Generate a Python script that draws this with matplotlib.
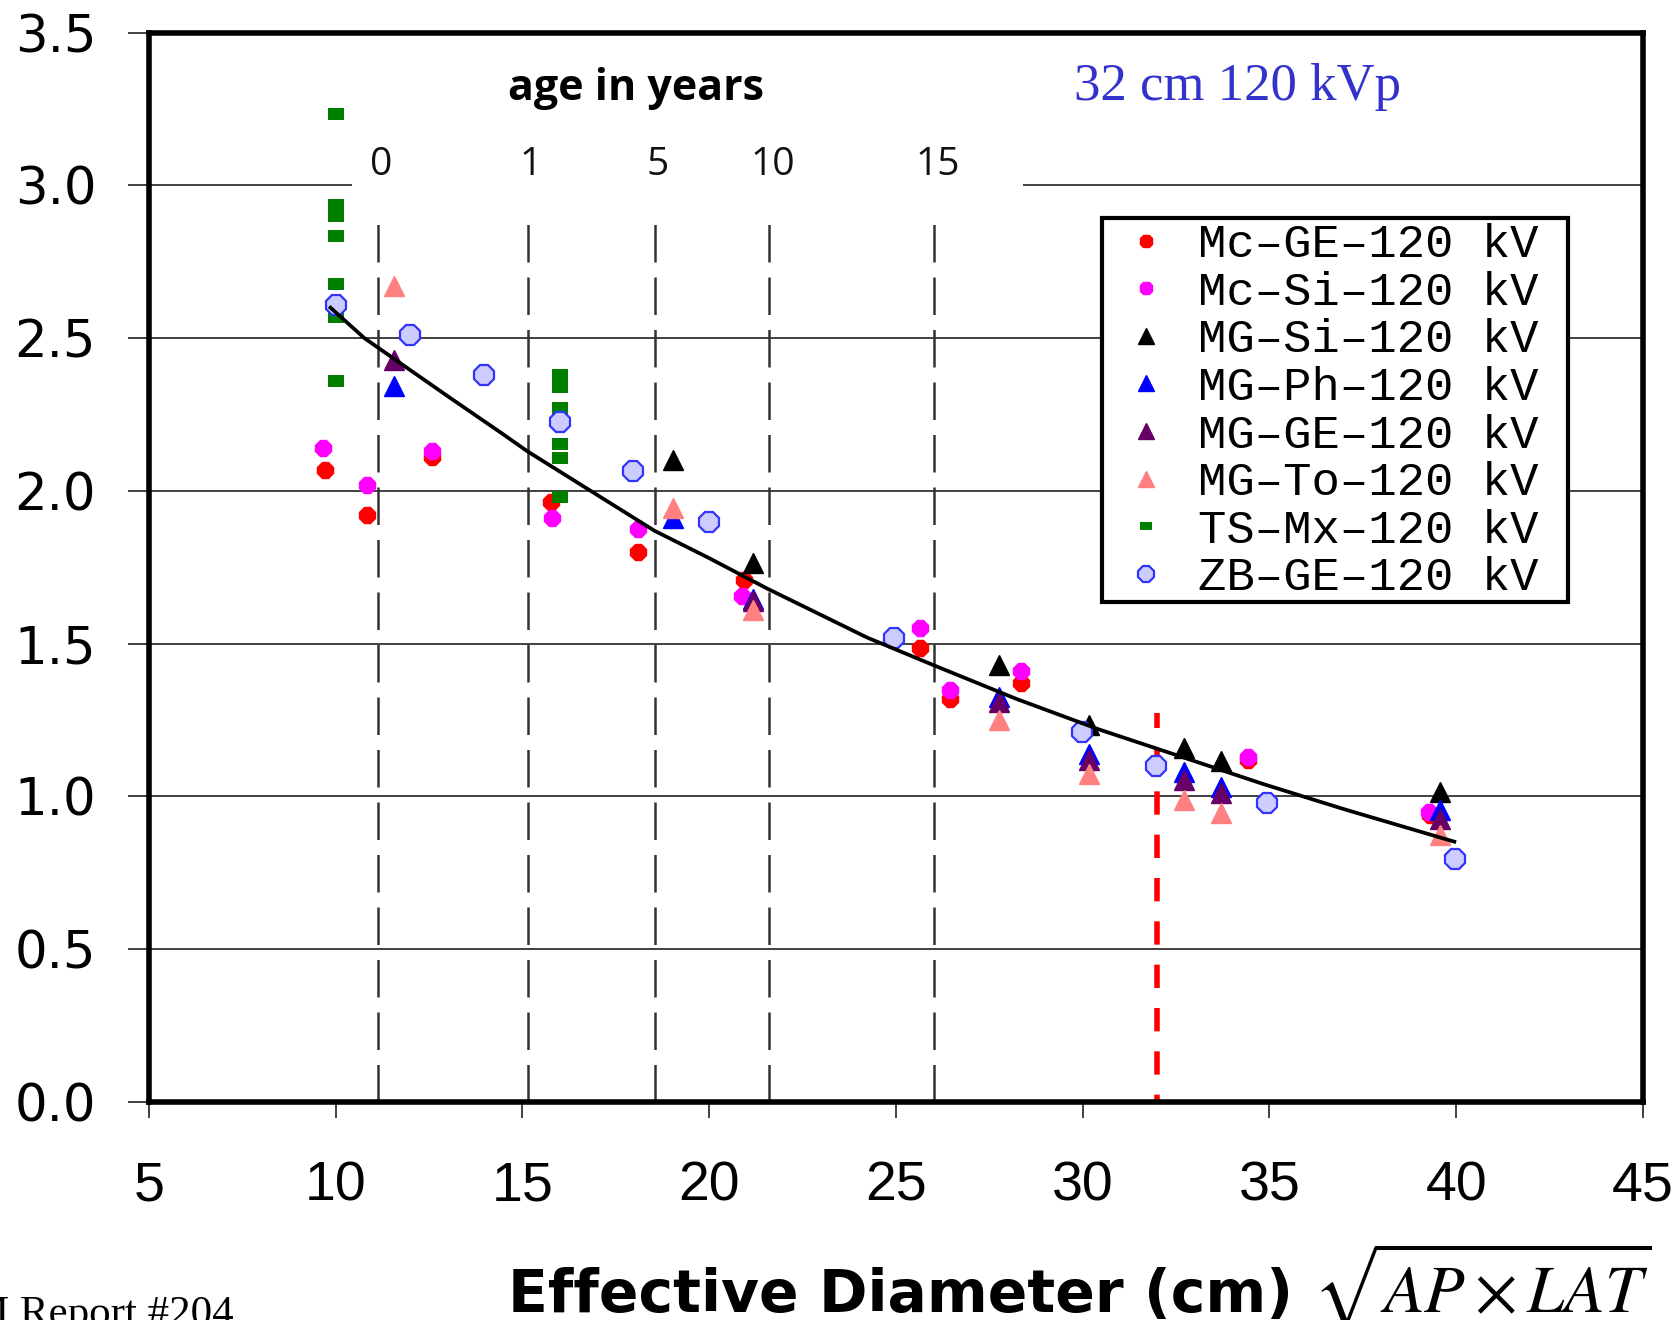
import matplotlib.pyplot as plt
from matplotlib.patches import Rectangle

plt.rcParams['mathtext.fontset'] = 'stix'

# effective diameter (cm) / normalized value
mc_ge_x = [9.70, 10.84, 12.59, 15.76, 18.10, 20.93, 25.64, 26.44, 28.35, 34.43, 39.30]
mc_ge_y = [2.07, 1.92, 2.11, 1.965, 1.80, 1.71, 1.485, 1.32, 1.37, 1.12, 0.94]
mc_si_x = [9.67, 10.84, 12.59, 15.78, 18.10, 20.88, 25.64, 26.44, 28.35, 34.43, 39.26]
mc_si_y = [2.14, 2.02, 2.13, 1.91, 1.875, 1.655, 1.55, 1.35, 1.41, 1.13, 0.95]
mg_si_x = [19.02, 21.17, 27.77, 30.18, 32.72, 33.71, 39.57]
mg_si_y = [2.10, 1.765, 1.43, 1.235, 1.16, 1.115, 1.015]
mg_ph_x = [11.55, 19.02, 21.17, 27.77, 30.18, 32.72, 33.71, 39.57]
mg_ph_y = [2.345, 1.91, 1.645, 1.325, 1.14, 1.08, 1.03, 0.955]
mg_ge_x = [11.55, 21.17, 27.77, 30.18, 32.72, 33.71, 39.57]
mg_ge_y = [2.43, 1.64, 1.31, 1.12, 1.055, 1.01, 0.925]
mg_to_x = [11.55, 19.02, 21.17, 27.77, 30.18, 32.72, 33.71, 39.57]
mg_to_y = [2.67, 1.945, 1.61, 1.25, 1.075, 0.99, 0.945, 0.875]
ts_mx_x = [10, 10, 10, 10, 10, 10, 10, 16, 16, 16, 16, 16, 16]
ts_mx_y = [3.235, 2.935, 2.899, 2.836, 2.676, 2.569, 2.360,
           2.379, 2.341, 2.270, 2.155, 2.109, 1.979]
zb_ge_x = [10.01, 12.0, 13.96, 16.01, 17.97, 20.0, 24.95, 29.98, 31.95, 34.93, 39.96]
zb_ge_y = [2.61, 2.51, 2.38, 2.225, 2.065, 1.90, 1.52, 1.21, 1.10, 0.977, 0.795]

# fitted curve, points
fit_x = [9.86, 10.77, 13.0, 14.43, 15.13, 18.53, 20.0, 21.56, 24.23, 26.0,
         28.21, 30.42, 32.64, 34.85, 37.06, 39.95]
fit_y = [2.60, 2.50, 2.31, 2.19, 2.13, 1.87, 1.78, 1.68, 1.52, 1.43,
         1.32, 1.22, 1.13, 1.04, 0.956, 0.852]

# age markers along the diameter axis
age_labels = ['0', '1', '5', '10', '15']
age_x = [11.14, 15.14, 18.54, 21.61, 26.03]

ref_diameter = 32

series = [
    (mc_ge_x, mc_ge_y, 'Mc–GE–120 kV', dict(marker='8', ms=13, mfc='#ff0000', mec='#ff0000')),
    (mc_si_x, mc_si_y, 'Mc–Si–120 kV', dict(marker='8', ms=13, mfc='#ff00ff', mec='#ff00ff')),
    (mg_si_x, mg_si_y, 'MG–Si–120 kV', dict(marker='^', ms=15, mfc='#000000', mec='#000000')),
    (mg_ph_x, mg_ph_y, 'MG–Ph–120 kV', dict(marker='^', ms=15, mfc='#0000ff', mec='#0000ff')),
    (mg_ge_x, mg_ge_y, 'MG–GE–120 kV', dict(marker='^', ms=15, mfc='#660066', mec='#660066')),
    (mg_to_x, mg_to_y, 'MG–To–120 kV', dict(marker='^', ms=15, mfc='#ff8080', mec='#ff8080')),
    (ts_mx_x, ts_mx_y, 'TS–Mx–120 kV', dict(marker=[(-1, -0.7), (1, -0.7), (1, 0.7), (-1, 0.7)],
                                            ms=11.5, mfc='#007f00', mec='#007f00', mew=0)),
    (zb_ge_x, zb_ge_y, 'ZB–GE–120 kV', dict(marker='8', ms=16, mfc='#ccccff', mec='#3333ff', mew=1.6)),
]

fig = plt.figure(figsize=(16.78, 13.2), dpi=100)
ax = fig.add_axes([0.0888, 0.1652, 0.8903, 0.810])

# grid lines (the 3.0 line is interrupted by the age labels)
for y in [0.5, 1.0, 1.5, 2.0, 2.5]:
    ax.axhline(y, color='#404040', lw=1.4, zorder=1)
ax.hlines(3.0, 5, 10.44, color='#404040', lw=1.4, zorder=1)
ax.hlines(3.0, 28.39, 45, color='#404040', lw=1.4, zorder=1)

ax.vlines(age_x, 0, 2.92, colors='#333333', lw=1.8, linestyles=[(0, (15, 6))], zorder=1)
for xa, lab in zip(age_x, age_labels):
    ax.text(xa + 0.08, 3.068, lab, ha='center', va='center', fontsize=28,
            family='Open Sans', color='#111111')
ax.text(18.03, 3.318, 'age in years', ha='center', va='center', fontsize=31,
        family='Open Sans', fontweight='bold')

ax.plot([ref_diameter, ref_diameter], [1.273, 0], color='#ff0000', lw=4,
        linestyle=(1.5, (4.2, 3.6)), zorder=2)

handles = []
for xs, ys, lab, st in series:
    h, = ax.plot(xs, ys, linestyle='none', label=lab, zorder=3, **st)
    handles.append(h)

ax.plot(fit_x, fit_y, color='black', lw=2.7, zorder=4)

ax.text(29.76, 3.28, '32 cm 120 kVp', fontsize=38, family='Liberation Serif',
        color='#3333cc', va='baseline', ha='left')

# legend box
ax.add_patch(Rectangle((0.638, 0.468), 0.950 - 0.638, 0.827 - 0.468, transform=ax.transAxes,
                       facecolor='white', edgecolor='black', lw=3, zorder=5))
leg = ax.legend(handles=handles, loc='upper left', bbox_to_anchor=(0.638, 0.827),
                borderaxespad=0, frameon=False, borderpad=0.12, labelspacing=0.075,
                handlelength=1.6, handletextpad=0.3, markerscale=0.75,
                prop={'family': 'Liberation Mono', 'size': 34})
leg.set_zorder(6)

ax.set_xlim(5, 45)
ax.set_ylim(0, 3.5)
ax.set_xticks(range(5, 50, 5))
ax.set_yticks([0, 0.5, 1.0, 1.5, 2.0, 2.5, 3.0, 3.5])
ax.set_yticklabels(['0.0', '0.5', '1.0', '1.5', '2.0', '2.5', '3.0', '3.5'])
ax.tick_params(axis='x', direction='out', length=11.5, width=1.4, color='#404040',
               pad=31, labelsize=40)
ax.tick_params(axis='y', direction='out', length=15, width=1.4, color='#404040',
               pad=23, labelsize=37)
for t in ax.get_xticklabels():
    t.set_family('Liberation Sans')
for t in ax.get_yticklabels():
    t.set_family('DejaVu Sans')
for s in ax.spines.values():
    s.set_linewidth(4)
    s.set_color('black')

fig.text(0.3027, 0.006, 'Effective Diameter (cm)', fontsize=42, fontweight='bold',
         family='DejaVu Sans', va='baseline', ha='left')
fig.text(0.7825, 0.006, r'$\sqrt{AP\times LAT}$', fontsize=48, va='baseline', ha='left')
fig.text(0.139, -0.004, 'AAPM Report #204', fontsize=31, family='Liberation Serif',
         va='baseline', ha='right')

plt.savefig('out.png', dpi=100)
